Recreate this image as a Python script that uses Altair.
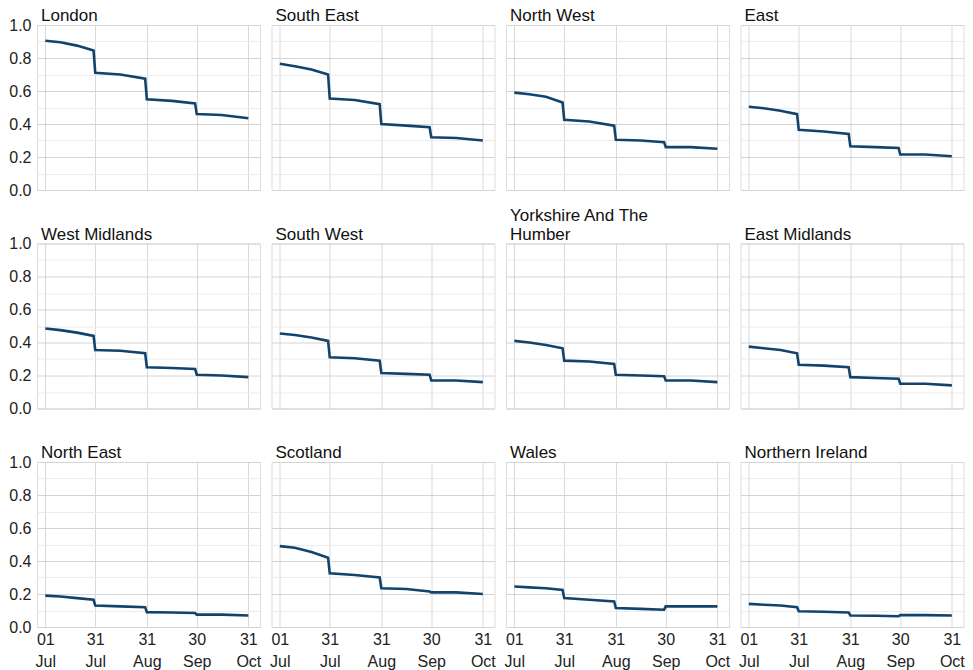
import altair as alt
import pandas as pd

regions = ["London", "South East", "North West", "East",
           "West Midlands", "South West", "Yorkshire And The Humber", "East Midlands",
           "North East", "Scotland", "Wales", "Northern Ireland"]

dates = ["2021-07-01", "2021-07-10", "2021-07-20", "2021-07-30", "2021-07-31",
         "2021-08-15", "2021-08-30", "2021-08-31", "2021-09-15", "2021-09-29",
         "2021-09-30", "2021-10-15", "2021-10-31"]

values = {
    "London":                   [0.905, 0.895, 0.875, 0.845, 0.71, 0.70, 0.675, 0.55, 0.54, 0.525, 0.46, 0.455, 0.435],
    "South East":               [0.765, 0.75, 0.73, 0.70, 0.555, 0.545, 0.52, 0.40, 0.39, 0.38, 0.32, 0.315, 0.30],
    "North West":               [0.59, 0.58, 0.565, 0.53, 0.425, 0.415, 0.39, 0.305, 0.30, 0.29, 0.26, 0.26, 0.25],
    "East":                     [0.505, 0.495, 0.48, 0.46, 0.365, 0.355, 0.34, 0.265, 0.26, 0.255, 0.215, 0.215, 0.205],
    "West Midlands":            [0.485, 0.475, 0.46, 0.44, 0.355, 0.35, 0.335, 0.25, 0.245, 0.24, 0.205, 0.20, 0.19],
    "South West":               [0.455, 0.445, 0.43, 0.41, 0.31, 0.305, 0.29, 0.215, 0.21, 0.205, 0.17, 0.17, 0.16],
    "Yorkshire And The Humber": [0.41, 0.40, 0.385, 0.365, 0.29, 0.285, 0.27, 0.205, 0.20, 0.195, 0.17, 0.17, 0.16],
    "East Midlands":            [0.375, 0.365, 0.355, 0.335, 0.265, 0.26, 0.25, 0.19, 0.185, 0.18, 0.15, 0.15, 0.14],
    "North East":               [0.19, 0.185, 0.175, 0.165, 0.13, 0.125, 0.12, 0.09, 0.088, 0.085, 0.075, 0.075, 0.07],
    "Scotland":                 [0.49, 0.48, 0.455, 0.42, 0.325, 0.315, 0.30, 0.235, 0.23, 0.215, 0.21, 0.21, 0.20],
    "Wales":                    [0.245, 0.24, 0.235, 0.225, 0.175, 0.165, 0.155, 0.115, 0.11, 0.105, 0.125, 0.125, 0.125],
    "Northern Ireland":         [0.14, 0.135, 0.13, 0.12, 0.095, 0.092, 0.088, 0.07, 0.068, 0.065, 0.072, 0.072, 0.07],
}

# panel titles as displayed (one long name wraps onto two lines)
titles = {r: r for r in regions}
titles["Yorkshire And The Humber"] = ["Yorkshire And The", "Humber"]

tick_dates = ["2021-07-01", "2021-07-31", "2021-08-31", "2021-09-30", "2021-10-31"]
x_domain = ["2021-06-26", "2021-11-07"]
y_ticks = [0, 0.1, 0.2, 0.3, 0.4, 0.5, 0.6, 0.7, 0.8, 0.9, 1.0]

rows = []
for r in regions:
    for d, v in zip(dates, values[r]):
        rows.append({"region": r, "date": d, "value": v})
df = pd.DataFrame(rows)

font = "Liberation Sans"
ncols = 4


def dt(s):
    return alt.DateTime(year=int(s[:4]), month=int(s[5:7]), date=int(s[8:]), utc=True)


def panel(i, r):
    first_col = i % ncols == 0
    bottom_row = i >= len(regions) - ncols
    x_axis = alt.Axis(
        values=[dt(t) for t in tick_dates],
        labelExpr="[utcFormat(datum.value, '%d'), utcFormat(datum.value, '%b')]",
        title=None, grid=True, gridColor="#d9d9d9", ticks=False, domain=False,
        labels=bottom_row, labelFontSize=16, labelColor="#222222", labelFont=font,
        labelPadding=4, labelFlush=False, labelOverlap=False, labelLineHeight=22,
    )
    y_axis = alt.Axis(
        values=y_ticks, title=None, grid=True,
        gridColor={"condition": {"test": "round(datum.value * 10) % 2 == 0", "value": "#d4d4d4"},
                   "value": "#ececec"},
        labelExpr="round(datum.value * 10) % 2 == 0 ? format(datum.value, '.1f') : ''",
        ticks=False, domain=False, labels=first_col, labelFontSize=16,
        labelColor="#222222", labelFont=font, labelPadding=6,
    )
    return alt.Chart().mark_line(color="#12436D", strokeWidth=2.6).encode(
        x=alt.X("date:T", scale=alt.Scale(type="utc", domain=[dt(x_domain[0]), dt(x_domain[1])]),
                axis=x_axis),
        y=alt.Y("value:Q", scale=alt.Scale(domain=[0, 1], nice=False), axis=y_axis),
    ).transform_filter(
        alt.datum.region == r
    ).properties(
        width=223, height=165,
        title=alt.TitleParams(text=titles[r], anchor="start", frame="group", fontSize=17,
                              font=font, fontWeight="normal", color="#111111",
                              offset=-8 if first_col else 0, dx=4, lineHeight=19),
    )


chart = alt.concat(
    *[panel(i, r) for i, r in enumerate(regions)],
    columns=ncols, data=df, spacing={"row": 53.5, "column": 11.5}, bounds="flush",
).configure_view(stroke="#d0d0d0").configure(
    background="white", padding={"left": 0, "top": -2, "right": 0, "bottom": 0}
)

chart.save("out.html", embed_options={"renderer": "svg", "actions": False})
